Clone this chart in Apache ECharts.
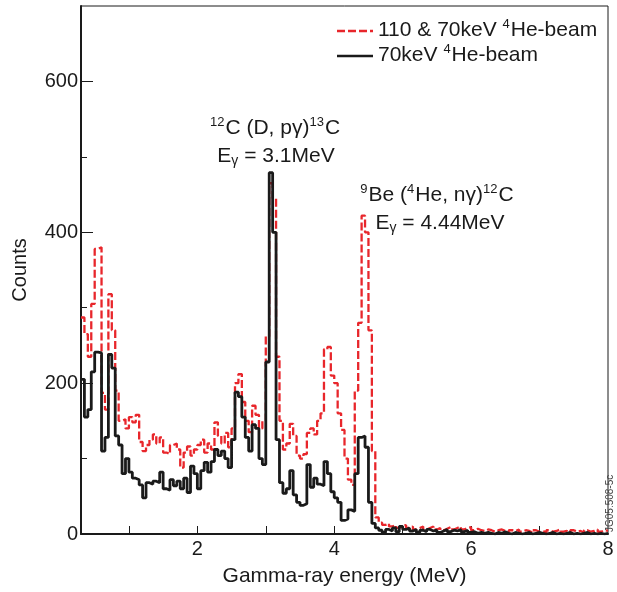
<!DOCTYPE html>
<html>
<head>
<meta charset="utf-8">
<script src="https://cdn.jsdelivr.net/npm/echarts@6/dist/echarts.min.js"></script>
<style>
html,body{margin:0;padding:0;background:#fff;}
#chart{width:617px;height:592px;}
</style>
</head>
<body>
<div id="chart"></div>
<script>
// Histogram bins: left edge of first bin and bin width (MeV)
const binStart = 0.30;
const binWidth = 0.05;

// 110 & 70keV 4He-beam (red dashed)
const redCounts = [
  287,265,235,305,378,380,187,165,318,270,
  190,150,152,140,155,148,158,122,110,118,
  125,132,120,128,108,106,118,120,112,88,
  108,116,104,112,118,125,108,120,112,148,
  130,120,134,115,140,200,212,175,150,135,
  170,158,140,150,262,465,445,235,150,112,
  120,146,130,104,100,106,134,140,132,150,
  160,245,248,210,200,160,138,100,72,65,
  190,280,422,400,270,110,22,15,
  12,14,10,12,8,10,12,8,10,6,
  8,10,6,8,10,6,8,5,7,9,
  6,8,10,6,8,9,5,7,5,4,
  6,5,3,5,6,4,2,5,4,6,
  3,5,4,2,5,3,4,2,5,3,
  4,6,3,4,2,5,3,4,2,5,
  3,4,6,3,5,4
];

// 70keV 4He-beam (black solid)
const blackCounts = [
  205,155,165,215,241,240,110,128,238,220,
  130,118,80,100,82,74,72,65,48,68,
  66,70,68,82,60,58,72,64,70,60,
  74,55,90,80,60,84,95,82,96,112,
  104,110,100,88,125,188,182,155,128,110,
  145,140,100,92,228,479,400,125,68,54,
  60,84,52,42,38,40,92,62,74,66,
  64,96,80,56,48,42,18,20,32,30,
  80,128,130,115,42,14,8,5,
  2,6,4,8,3,10,6,8,4,6,
  2,5,3,6,4,5,2,4,6,3,
  5,4,6,3,5,2,3,1,2,1,
  2,1,0,2,1,3,1,0,2,1,
  0,1,2,0,1,2,1,0,1,2,
  0,1,0,1,2,0,1,0,1,2,
  0,1,0,1,0,1
];

const seriesNames = ['110 & 70keV 4He-beam', '70keV 4He-beam'];
const yLabelValues = [0, 200, 400, 600];
const yMinorValues = [100, 300, 500];
const xLabelValues = [2, 4, 6, 8];
const xTickValues = [1, 2, 3, 4, 5, 6, 7];

function toSteps(vals) {
  const d = vals.map((v, i) => [+(binStart + i * binWidth).toFixed(2), v]);
  d.push([+(binStart + vals.length * binWidth).toFixed(2), vals[vals.length - 1]]);
  return d;
}

const FONT = '"Liberation Sans", Arial, Helvetica, sans-serif';
const RED = '#e8262b';
const BLACK = '#1a1a1a';
const RED_DASH = [8, 3];

const chart = echarts.init(document.getElementById('chart'));
const rich = {
  base: { fontSize: 21, fontFamily: FONT, fill: BLACK, color: BLACK, lineHeight: 24 },
  sup: { fontSize: 13, fontFamily: FONT, fill: BLACK, color: BLACK, verticalAlign: 'top', lineHeight: 24, padding: [0, 1, 0, 0] },
  sub: { fontSize: 14, fontFamily: FONT, fill: BLACK, color: BLACK, verticalAlign: 'bottom', lineHeight: 20 }
};

function richText(x, y, text, align) {
  return {
    type: 'text', x: x, y: y, z: 10,
    style: { text: text, rich: rich, align: align || 'center', verticalAlign: 'middle' }
  };
}

chart.setOption({
  animation: false,
  backgroundColor: '#fff',
  grid: { left: 81, right: 9, top: 6, bottom: 58, show: true, borderColor: BLACK, borderWidth: 1, outerBoundsMode: 'none', containLabel: false },
  xAxis: {
    type: 'value',
    min: 0.3,
    max: 8,
    name: 'Gamma-ray energy (MeV)',
    nameLocation: 'middle',
    nameGap: 32,
    nameTextStyle: { fontSize: 21, fontFamily: FONT, color: BLACK },
    axisLine: { show: true, lineStyle: { color: BLACK, width: 2 } },
    axisTick: { show: true, inside: true, length: 8, customValues: xTickValues, lineStyle: { color: BLACK, width: 1 } },
    axisLabel: { customValues: xLabelValues, fontSize: 20, fontFamily: FONT, color: BLACK, margin: 5 },
    splitLine: { show: false }
  },
  yAxis: [{
    type: 'value',
    min: 0,
    max: 700,
    name: 'Counts',
    nameLocation: 'middle',
    nameGap: 51,
    nameTextStyle: { fontSize: 20, fontFamily: FONT, color: BLACK },
    axisLine: { show: true, lineStyle: { color: BLACK, width: 2 } },
    axisTick: { show: true, inside: true, length: 12, customValues: yLabelValues, lineStyle: { color: BLACK, width: 1 } },
    axisLabel: { customValues: yLabelValues, fontSize: 20, fontFamily: FONT, color: BLACK, margin: 3 },
    splitLine: { show: false }
  }, {
    type: 'value',
    position: 'left',
    min: 0,
    max: 700,
    axisLine: { show: false },
    axisTick: { show: true, inside: true, length: 6, customValues: yMinorValues, lineStyle: { color: BLACK, width: 1 } },
    axisLabel: { show: false },
    splitLine: { show: false }
  }],
  series: [{
    name: seriesNames[0],
    type: 'line',
    step: 'end',
    symbol: 'none',
    data: toSteps(redCounts),
    lineStyle: { color: RED, width: 2.3, type: RED_DASH },
    itemStyle: { color: RED },
    z: 2
  }, {
    name: seriesNames[1],
    type: 'line',
    step: 'end',
    symbol: 'none',
    data: toSteps(blackCounts),
    lineStyle: { color: BLACK, width: 2.8 },
    itemStyle: { color: BLACK },
    z: 3
  }],
  graphic: [
    // legend
    { type: 'line', z: 10, shape: { x1: 337, y1: 31, x2: 373, y2: 31 }, style: { stroke: RED, lineWidth: 2.5, lineDash: RED_DASH } },
    { type: 'line', z: 10, shape: { x1: 337, y1: 56, x2: 373, y2: 56 }, style: { stroke: BLACK, lineWidth: 2.5 } },
    richText(378, 30, '{base|110 & 70keV }{sup|4}{base|He-beam}', 'left'),
    richText(378, 55, '{base|70keV }{sup|4}{base|He-beam}', 'left'),
    // annotations
    richText(275, 128, '{sup|12}{base|C (D, pγ)}{sup|13}{base|C}'),
    richText(276, 156, '{base|E}{sub|γ}{base| = 3.1MeV}'),
    richText(437, 195, '{sup|9}{base|Be (}{sup|4}{base|He, nγ)}{sup|12}{base|C}'),
    richText(440, 223, '{base|E}{sub|γ}{base| = 4.44MeV}'),
    {
      type: 'text', x: 605, y: 532, rotation: Math.PI / 2, z: 10,
      style: { text: 'JG05.508-5c', fontSize: 10, fontFamily: FONT, fill: '#444', verticalAlign: 'top' }
    }
  ]
});
</script>
</body>
</html>
